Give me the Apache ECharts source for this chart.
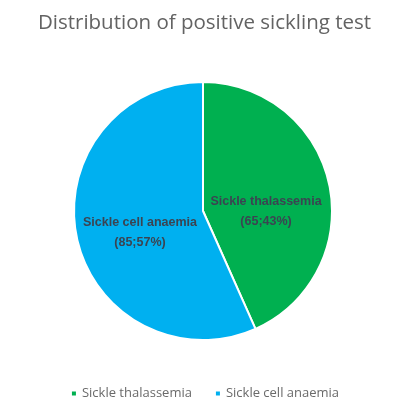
<!DOCTYPE html>
<html>
<head>
<meta charset="utf-8">
<script src="https://cdn.jsdelivr.net/npm/echarts@6/dist/echarts.min.js"></script>
<style>
  html, body { margin: 0; padding: 0; background: #fff; }
  #chart { width: 409px; height: 417px; }
</style>
</head>
<body>
<div id="chart"></div>
<script>
const categories = ['Sickle thalassemia', 'Sickle cell anaemia']
const counts = [65, 85]
const percents = [43, 57]
const colors = ['#00B050', '#00B0F0']
// nudge labels to where the original places them
const labelShift = [[-3, 15], [3, 8]]

const chart = echarts.init(document.getElementById('chart'))

const data = categories.map((name, i) => ({
  name,
  value: counts[i],
  pct: percents[i],
  itemStyle: { color: colors[i] },
}))

chart.setOption({
  animation: false,
  title: {
    text: 'Distribution of positive sickling test',
    left: 'center',
    top: 8,
    textStyle: { fontFamily: 'Open Sans', fontSize: 20.5, fontWeight: 'normal', color: '#636363' },
  },
  legend: {
    bottom: 12,
    left: 'center',
    icon: 'rect',
    itemWidth: 6,
    itemHeight: 6,
    itemGap: 22,
    textStyle: { fontFamily: 'Open Sans', fontSize: 13, color: '#6a6a6a' },
    data: categories,
  },
  series: [{
    type: 'pie',
    center: [203, 211],
    radius: [0, 129],
    startAngle: 90,
    clockwise: true,
    itemStyle: { borderColor: '#fff', borderWidth: 2 },
    label: {
      position: 'inside',
      fontFamily: 'Liberation Sans',
      fontSize: 12.5,
      fontWeight: 'bold',
      color: '#3b4452',
      lineHeight: 20,
      formatter: p => p.name + '\n(' + p.value + ';' + p.data.pct + '%)',
    },
    labelLayout: p => ({ dx: labelShift[p.dataIndex][0], dy: labelShift[p.dataIndex][1] }),
    labelLine: { show: false },
    data,
  }],
})
</script>
</body>
</html>
